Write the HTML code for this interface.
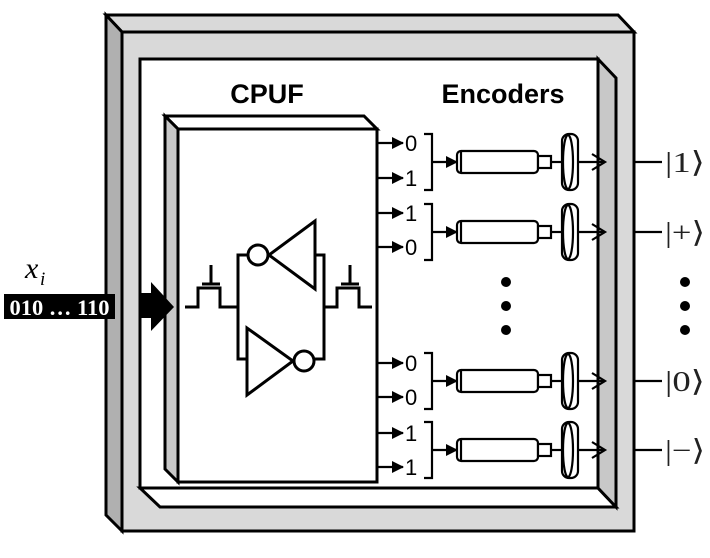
<!DOCTYPE html>
<html><head><style>body{margin:0;background:#fff}svg{display:block}</style></head><body>
<svg width="710" height="558" viewBox="0 0 710 558" xmlns="http://www.w3.org/2000/svg">
<defs>
<marker id="fa" markerWidth="12" markerHeight="12" refX="11" refY="6" orient="auto" markerUnits="userSpaceOnUse"><path d="M0,0 L12,6 L0,12 z" fill="#000"/></marker>
</defs>
<g stroke="#000" stroke-width="3" stroke-linejoin="miter">
<polygon points="106,15 618,15 634,32 122,32" fill="#d9d9d9"/>
<polygon points="106,15 122,32 122,531 106,515" fill="#b0b0b0"/>
<rect x="122" y="32" width="512" height="499" fill="#d9d9d9"/>
<polygon points="140,59 598,59 598,488 140,488" fill="#fff"/>
<polygon points="140,488 598,488 616,507 160,507" fill="#fff"/>
<polygon points="598,59 616,78 616,507 598,488" fill="#c8c8c8"/>
<polygon points="165,116 364,116 377,129 178,129" fill="#fff"/>
<polygon points="165,116 178,129 178,482 165,469" fill="#c8c8c8"/>
<rect x="178" y="129" width="199" height="353" fill="#fff"/>
</g>
<g stroke="#000" stroke-width="3" fill="none">
<polyline points="185,307 198,307 198,288 220,288 220,307 238,307"/>
<line x1="202" y1="284" x2="220" y2="284"/><line x1="211" y1="284" x2="211" y2="265"/>
<polyline points="324,307 337,307 337,288 359,288 359,307 372,307"/>
<line x1="341" y1="284" x2="359" y2="284"/><line x1="350" y1="284" x2="350" y2="265"/>
<polyline points="248,255 238,255 238,359 247,359"/>
<polyline points="315,255 324,255 324,359 314,359"/>
<polygon points="315,221 315,289 269,255" fill="#fff"/>
<circle cx="258" cy="255" r="10" fill="#fff"/>
<polygon points="247,328 247,395 293,361" fill="#fff"/>
<circle cx="304" cy="361" r="10" fill="#fff"/>
</g>
<polygon points="140,293 151,293 151,282 174,307 151,331 151,318 140,318" fill="#000"/>
<rect x="4" y="294" width="111" height="25" fill="#000"/>
<text x="59.5" y="315" text-anchor="middle" font-family="Liberation Serif, serif" font-weight="bold" font-size="22" fill="#fff" textLength="100" lengthAdjust="spacingAndGlyphs">010 … 110</text>
<text x="25" y="278" font-family="Liberation Serif, serif" font-style="italic" font-size="30">x</text>
<text x="40" y="285" font-family="Liberation Serif, serif" font-style="italic" font-size="19">i</text>
<text x="267" y="103" text-anchor="middle" font-family="Liberation Sans, sans-serif" font-weight="bold" font-size="27">CPUF</text>
<text x="503" y="103" text-anchor="middle" font-family="Liberation Sans, sans-serif" font-weight="bold" font-size="27">Encoders</text>
<g stroke="#000" stroke-width="2.2" fill="none">
<line x1="377" y1="143" x2="403" y2="143" marker-end="url(#fa)"/>
<line x1="377" y1="178" x2="403" y2="178" marker-end="url(#fa)"/>
<line x1="377" y1="213" x2="403" y2="213" marker-end="url(#fa)"/>
<line x1="377" y1="247" x2="403" y2="247" marker-end="url(#fa)"/>
<line x1="377" y1="363" x2="403" y2="363" marker-end="url(#fa)"/>
<line x1="377" y1="397" x2="403" y2="397" marker-end="url(#fa)"/>
<line x1="377" y1="433" x2="403" y2="433" marker-end="url(#fa)"/>
<line x1="377" y1="467" x2="403" y2="467" marker-end="url(#fa)"/>
</g>
<g font-family="Liberation Sans, sans-serif" font-size="22" fill="#000">
<text x="405" y="151">0</text><text x="405" y="186">1</text>
<text x="405" y="221">1</text><text x="405" y="255">0</text>
<text x="405" y="371">0</text><text x="405" y="405">0</text>
<text x="405" y="441">1</text><text x="405" y="475">1</text>
</g>
<g stroke="#000" stroke-width="2.2" fill="none">
<g id="r1" transform="translate(0,162)">
<polyline points="424,-28 432,-28 432,28 424,28"/>
<line x1="432" y1="0" x2="457" y2="0" marker-end="url(#fa)"/>
<rect x="457" y="-11" width="81" height="22" rx="4" fill="#fff"/>
<line x1="461" y1="-11" x2="461" y2="11"/>
<rect x="538" y="-6" width="13" height="12" fill="#fff"/>
<line x1="551" y1="0" x2="562" y2="0"/>
<rect x="562" y="-28" width="16" height="56" rx="7" fill="#fff"/>
<ellipse cx="568" cy="0" rx="5" ry="27"/>
<line x1="578" y1="0" x2="605" y2="0"/>
<polyline points="592,-8 605,0 592,8"/>
<line x1="634" y1="0" x2="662" y2="0"/>
</g>
<use href="#r1" transform="translate(0,70)"/>
<use href="#r1" transform="translate(0,219)"/>
<use href="#r1" transform="translate(0,288)"/>
</g>
<g font-family="Liberation Serif, 'DejaVu Serif', serif" font-size="29" fill="#222">
<text x="665" y="172" textLength="40" lengthAdjust="spacingAndGlyphs">|1⟩</text>
<text x="665" y="242" textLength="40" lengthAdjust="spacingAndGlyphs">|+⟩</text>
<text x="665" y="391" textLength="40" lengthAdjust="spacingAndGlyphs">|0⟩</text>
<text x="665" y="460" textLength="40" lengthAdjust="spacingAndGlyphs">|−⟩</text>
</g>
<g fill="#000">
<circle cx="506" cy="282" r="5"/><circle cx="506" cy="306" r="5"/><circle cx="506" cy="330" r="5"/>
<circle cx="685" cy="282" r="5"/><circle cx="685" cy="306" r="5"/><circle cx="685" cy="330" r="5"/>
</g>
</svg>
</body></html>
